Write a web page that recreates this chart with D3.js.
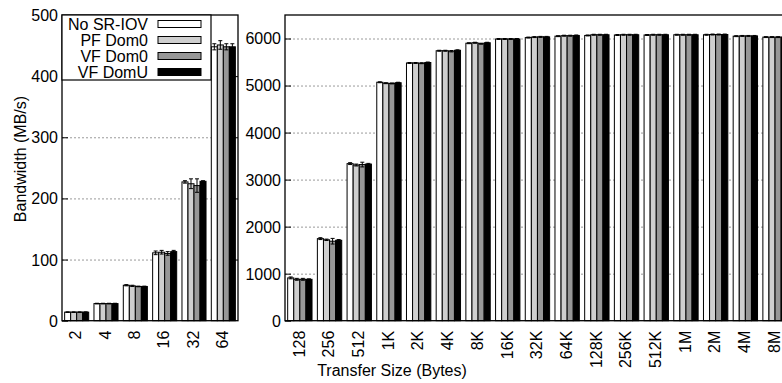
<!DOCTYPE html>
<html>
<head>
<meta charset="utf-8">
<script src="https://cdn.jsdelivr.net/npm/d3@7"></script>
<style>
  html, body { margin: 0; padding: 0; background: #fff; }
  svg { display: block; }
  text { font-family: "Liberation Sans", Arial, Helvetica, sans-serif; font-size: 16px; fill: #000; }
</style>
</head>
<body>
<svg id="chart" width="782" height="383"></svg>
<script>
// Transfer sizes for the two panels
const smallSizes = ["2", "4", "8", "16", "32", "64"];
const largeSizes = ["128", "256", "512", "1K", "2K", "4K", "8K", "16K", "32K",
                    "64K", "128K", "256K", "512K", "1M", "2M", "4M", "8M"];

// Configurations
const seriesNames = ["No SR-IOV", "PF Dom0", "VF Dom0", "VF DomU"];

// Bandwidth (MB/s), small transfers
const smallNoSriov = [14, 28, 58, 111, 227, 448];
const smallPfDom0  = [14, 28, 57, 112, 224, 451];
const smallVfDom0  = [14, 28, 56, 110, 221, 448];
const smallVfDomU  = [14, 28, 56, 113, 228, 448];

// Standard deviation (MB/s), small transfers
const smallNoSriovErr = [0.5, 0.5, 1, 3, 2, 5];
const smallPfDom0Err  = [0.5, 0.5, 1, 3, 8, 7];
const smallVfDom0Err  = [0.5, 0.5, 0.5, 3, 11, 5];
const smallVfDomUErr  = [0.5, 0.5, 0.5, 2, 1, 5];

// Bandwidth (MB/s), larger transfers
const largeNoSriov = [910, 1745, 3340, 5070, 5480, 5740, 5900, 5990, 6020, 6050, 6065, 6075, 6075, 6080, 6080, 6050, 6030];
const largePfDom0  = [880, 1720, 3310, 5050, 5480, 5740, 5910, 5990, 6030, 6060, 6080, 6080, 6080, 6080, 6085, 6055, 6030];
const largeVfDom0  = [880, 1690, 3320, 5045, 5475, 5730, 5890, 5990, 6035, 6060, 6080, 6080, 6080, 6080, 6085, 6055, 6030];
const largeVfDomU  = [880, 1710, 3330, 5060, 5490, 5750, 5910, 5990, 6035, 6065, 6080, 6080, 6080, 6080, 6085, 6055, 6030];

// Standard deviation (MB/s), larger transfers
const largeNoSriovErr = [20, 20, 20, 10, 10, 10, 10, 10, 10, 10, 10, 10, 10, 10, 10, 10, 10];
const largePfDom0Err  = [20, 15, 20, 10, 10, 10, 10, 10, 10, 10, 10, 10, 10, 10, 10, 10, 10];
const largeVfDom0Err  = [20, 60, 50, 10, 10, 15, 10, 10, 10, 10, 10, 10, 10, 10, 10, 10, 10];
const largeVfDomUErr  = [10, 15, 15, 10, 10, 10, 10, 10, 10, 10, 10, 10, 10, 10, 10, 10, 10];

// Tick values
const smallTicks = [0, 100, 200, 300, 400, 500];
const largeTicks = [0, 1000, 2000, 3000, 4000, 5000, 6000];

const fills = ["#ffffff", "#cfcfcf", "#979797", "#000000"];

const svg = d3.select("#chart");
const plotTop = 15, plotBottom = 320.7;

function drawPanel(opts) {
  const { left, width, cats, values, errors, yMax, ticks } = opts;
  const g = svg.append("g").attr("transform", `translate(${left},0)`);

  const x = d3.scaleBand().domain(cats).range([0, width]).paddingInner(0.18).paddingOuter(0.09);
  const xi = d3.scaleBand().domain(seriesNames).range([0, x.bandwidth()]);
  const y = d3.scaleLinear().domain([0, yMax]).range([plotBottom, plotTop]);

  // dotted grid
  const grid = g.append("g")
    .call(d3.axisLeft(y).tickValues(ticks.filter(t => t > 0 && t < yMax)).tickSize(-width).tickFormat(""));
  grid.select(".domain").remove();
  grid.selectAll("line").attr("stroke", "#9a9a9a").attr("stroke-width", 1).attr("stroke-dasharray", "2,2");

  // bars
  const rows = cats.map((c, i) => seriesNames.map((s, k) => ({ cat: c, s, k, v: values[k][i], e: errors[k][i] })));
  const groups = g.append("g").selectAll("g").data(rows).join("g")
    .attr("transform", d => `translate(${x(d[0].cat)},0)`);
  groups.selectAll("rect").data(d => d).join("rect")
    .attr("x", d => xi(d.s))
    .attr("y", d => y(d.v))
    .attr("width", xi.bandwidth())
    .attr("height", d => y(0) - y(d.v))
    .attr("fill", d => fills[d.k])
    .attr("stroke", "#000")
    .attr("stroke-width", 1);

  // error bars
  const eb = groups.selectAll("g.err").data(d => d).join("g").attr("class", "err")
    .attr("transform", d => `translate(${xi(d.s) + xi.bandwidth() / 2},0)`);
  eb.append("line").attr("x1", 0).attr("x2", 0)
    .attr("y1", d => y(d.v - d.e)).attr("y2", d => y(d.v + d.e))
    .attr("stroke", "#000").attr("stroke-width", 1);
  [-1, 1].forEach(sign => {
    eb.append("line").attr("x1", -2).attr("x2", 2)
      .attr("y1", d => y(d.v + sign * d.e)).attr("y2", d => y(d.v + sign * d.e))
      .attr("stroke", "#000").attr("stroke-width", 1);
  });

  // left axis with inward ticks and labels
  const ya = g.append("g").call(d3.axisLeft(y).tickValues(ticks).tickSize(-6).tickPadding(4).tickFormat(d3.format("d")));
  ya.select(".domain").remove();
  ya.selectAll("line").attr("stroke", "#000");
  ya.selectAll("text").attr("dy", "0.34em");
  ya.attr("font-size", null).attr("font-family", null);

  // mirrored ticks on the right
  const yr = g.append("g").attr("transform", `translate(${width},0)`)
    .call(d3.axisRight(y).tickValues(ticks.filter(t => t > 0 && t < yMax)).tickSize(-6).tickFormat(""));
  yr.select(".domain").remove();
  yr.selectAll("line").attr("stroke", "#000");

  // category labels, rotated
  const xa = g.append("g").attr("transform", `translate(0,${plotBottom})`)
    .call(d3.axisBottom(x).tickSize(0));
  xa.select(".domain").remove();
  xa.attr("font-size", null).attr("font-family", null);
  xa.selectAll("text")
    .attr("transform", "rotate(-90)")
    .attr("x", -10).attr("y", 0).attr("dy", "0.3em")
    .style("text-anchor", "end");

  // frame
  g.append("rect").attr("x", 0).attr("y", plotTop).attr("width", width).attr("height", plotBottom - plotTop)
    .attr("fill", "none").attr("stroke", "#000").attr("stroke-width", 1.3);

  return g;
}

drawPanel({
  left: 62, width: 176, cats: smallSizes,
  values: [smallNoSriov, smallPfDom0, smallVfDom0, smallVfDomU],
  errors: [smallNoSriovErr, smallPfDom0Err, smallVfDom0Err, smallVfDomUErr],
  yMax: 500, ticks: smallTicks
});

drawPanel({
  left: 285, width: 17 * 29.7, cats: largeSizes,
  values: [largeNoSriov, largePfDom0, largeVfDom0, largeVfDomU],
  errors: [largeNoSriovErr, largePfDom0Err, largeVfDom0Err, largeVfDomUErr],
  yMax: 6500, ticks: largeTicks
});

// legend inside the small-transfer panel
const legend = svg.append("g");
legend.append("rect").attr("x", 62).attr("y", 15).attr("width", 149).attr("height", 65)
  .attr("fill", "#fff").attr("stroke", "#000").attr("stroke-width", 1.2);
seriesNames.forEach((name, k) => {
  const cy = 24 + 16 * k;
  legend.append("text").attr("x", 148).attr("y", cy).attr("dy", "0.36em")
    .attr("text-anchor", "end").text(name);
  legend.append("rect").attr("x", 158).attr("y", cy - 3.5).attr("width", 43).attr("height", 7)
    .attr("fill", fills[k]).attr("stroke", "#000").attr("stroke-width", 1);
});

// axis titles
svg.append("text").attr("transform", "translate(26,159) rotate(-90)")
  .attr("text-anchor", "middle").text("Bandwidth (MB/s)");
svg.append("text").attr("x", 392).attr("y", 376)
  .attr("text-anchor", "middle").text("Transfer Size (Bytes)");
</script>
</body>
</html>
